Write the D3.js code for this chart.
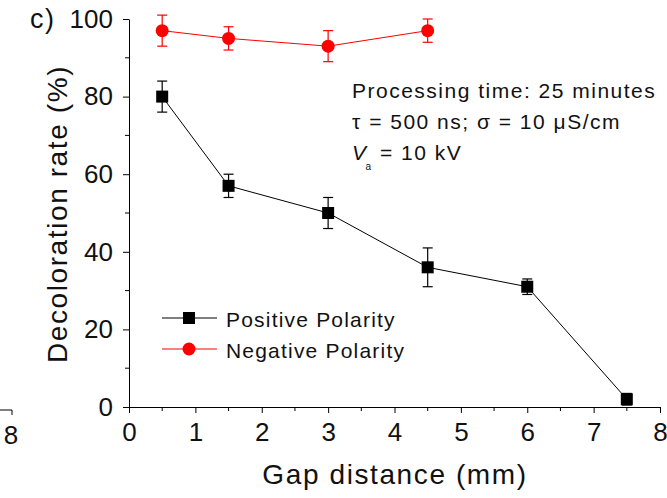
<!DOCTYPE html>
<html>
<head>
<meta charset="utf-8">
<script src="https://cdn.jsdelivr.net/npm/d3@7"></script>
<style>
  html, body { margin: 0; padding: 0; background: #fff; }
  svg { display: block; font-family: Arial, "Liberation Sans", sans-serif; }
</style>
</head>
<body>
<svg id="chart" width="667" height="498"></svg>
<script>
// Gap distance (mm) and decoloration rate (%) with error bars
const gapPositive = [0.5, 1.5, 3, 4.5, 6, 7.5];
const ratePositive = [80, 57, 50, 36, 31, 2];
const errPositive = [4, 3, 4, 5, 2, 1.5];

const gapNegative = [0.5, 1.5, 3, 4.5];
const rateNegative = [97, 95, 93, 97];
const errNegative = [4, 3, 4, 3];

const xTicks = [0, 1, 2, 3, 4, 5, 6, 7, 8];
const yTicks = [0, 20, 40, 60, 80, 100];

const svg = d3.select("#chart");
const x = d3.scaleLinear().domain([0, 8]).range([129, 660]);
const y = d3.scaleLinear().domain([0, 100]).range([407, 19]);

const tickFont = 26;

// y axis
const yAxis = svg.append("g").attr("transform", `translate(${x(0)},0)`)
  .call(d3.axisLeft(y).tickValues(yTicks).tickSize(6).tickPadding(10).tickSizeOuter(0));
yAxis.selectAll(".tick text").attr("font-size", tickFont).attr("fill", "#111")
  .attr("font-family", "Arial, 'Liberation Sans', sans-serif");
yAxis.append("g").selectAll("line")
  .data(d3.range(10, 100, 20)).join("line")
  .attr("x1", 0).attr("x2", -4).attr("y1", d => y(d)).attr("y2", d => y(d))
  .attr("stroke", "#000");

// x axis
const xAxis = svg.append("g").attr("transform", `translate(0,${y(0)})`)
  .call(d3.axisBottom(x).tickValues(xTicks).tickSize(6).tickPadding(10).tickSizeOuter(0));
xAxis.selectAll(".tick text").attr("font-size", tickFont).attr("fill", "#111")
  .attr("font-family", "Arial, 'Liberation Sans', sans-serif");
xAxis.append("g").selectAll("line")
  .data(d3.range(0.5, 8, 1)).join("line")
  .attr("x1", d => x(d)).attr("x2", d => x(d)).attr("y1", 0).attr("y2", 4)
  .attr("stroke", "#000");
svg.selectAll(".domain").attr("stroke", "#000");

// neighbouring axis fragment at the left edge
svg.append("path").attr("d", "M0,410H12V415").attr("fill", "none").attr("stroke", "#000");
svg.append("text").attr("x", 11).attr("y", 444).attr("text-anchor", "middle")
  .attr("font-size", tickFont).attr("fill", "#111").text("8");

// axis titles
svg.append("text").attr("x", 395).attr("y", 484).attr("text-anchor", "middle")
  .attr("font-size", 28).attr("letter-spacing", 1.6).attr("fill", "#111").text("Gap distance (mm)");
svg.append("text").attr("transform", "translate(67,214) rotate(-90)")
  .attr("text-anchor", "middle").attr("font-size", 28).attr("letter-spacing", 1.6).attr("fill", "#111")
  .text("Decoloration rate (%)");
svg.append("text").attr("x", 30).attr("y", 28).attr("font-size", 27)
  .attr("letter-spacing", 1.5).attr("fill", "#111").text("c)");

function drawSeries(xs, ys, es, color, shape) {
  const pts = xs.map((d, i) => ({ x: d, y: ys[i], e: es[i] }));
  const g = svg.append("g");
  g.append("path").datum(pts)
    .attr("d", d3.line().x(d => x(d.x)).y(d => y(d.y)))
    .attr("fill", "none").attr("stroke", color).attr("stroke-width", 1);
  const eb = g.selectAll(".eb").data(pts).join("g").attr("stroke", color).attr("stroke-width", 1.2);
  eb.append("line").attr("x1", d => x(d.x)).attr("x2", d => x(d.x))
    .attr("y1", d => y(d.y + d.e)).attr("y2", d => y(d.y - d.e));
  eb.append("line").attr("x1", d => x(d.x) - 5).attr("x2", d => x(d.x) + 5)
    .attr("y1", d => y(d.y + d.e)).attr("y2", d => y(d.y + d.e));
  eb.append("line").attr("x1", d => x(d.x) - 5).attr("x2", d => x(d.x) + 5)
    .attr("y1", d => y(d.y - d.e)).attr("y2", d => y(d.y - d.e));
  if (shape === "square") {
    g.selectAll(".m").data(pts).join("rect")
      .attr("x", d => x(d.x) - 6).attr("y", d => y(d.y) - 6)
      .attr("width", 12).attr("height", 12).attr("fill", color);
  } else {
    g.selectAll(".m").data(pts).join("circle")
      .attr("cx", d => x(d.x)).attr("cy", d => y(d.y)).attr("r", 6.5).attr("fill", color);
  }
}
drawSeries(gapPositive, ratePositive, errPositive, "#000", "square");
drawSeries(gapNegative, rateNegative, errNegative, "#ff0000", "circle");

// conditions annotation
const note = svg.append("g").attr("font-size", 21).attr("letter-spacing", 1.5).attr("fill", "#111");
note.append("text").attr("x", 352).attr("y", 98).text("Processing time: 25 minutes");
note.append("text").attr("x", 352).attr("y", 129).text("\u03c4 = 500 ns; \u03c3 = 10 \u03bcS/cm");
const va = note.append("text").attr("x", 352).attr("y", 160);
va.append("tspan").attr("font-style", "italic").text("V");
va.append("tspan").attr("font-size", 10).attr("dx", -2).attr("dy", 10).text("a");
va.append("tspan").attr("dy", -10).text(" = 10 kV");

// legend
const legend = [
  { label: "Positive Polarity", color: "#000", shape: "square" },
  { label: "Negative Polarity", color: "#ff0000", shape: "circle" }
];
const lg = svg.append("g");
legend.forEach((d, i) => {
  const ly = 318 + i * 31;
  lg.append("line").attr("x1", 162).attr("x2", 217).attr("y1", ly).attr("y2", ly)
    .attr("stroke", d.color).attr("stroke-width", 1);
  if (d.shape === "square") {
    lg.append("rect").attr("x", 183).attr("y", ly - 6).attr("width", 12).attr("height", 12).attr("fill", d.color);
  } else {
    lg.append("circle").attr("cx", 189).attr("cy", ly).attr("r", 6.5).attr("fill", d.color);
  }
  lg.append("text").attr("x", 226).attr("y", ly + 9).attr("font-size", 21)
    .attr("letter-spacing", 1.2).attr("fill", "#111").text(d.label);
});
</script>
</body>
</html>
